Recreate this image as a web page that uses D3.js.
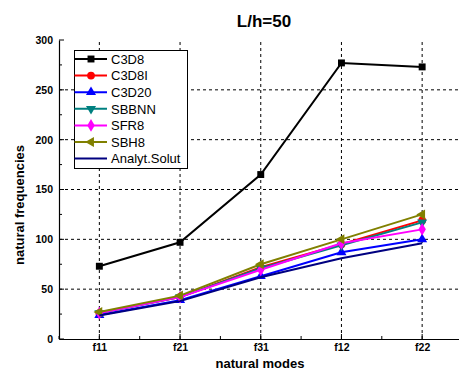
<!DOCTYPE html>
<html>
<head>
<meta charset="utf-8">
<script src="https://cdn.jsdelivr.net/npm/d3@7"></script>
<style>
  html, body { margin: 0; padding: 0; background: #fff; }
  svg { display: block; font-family: "Liberation Sans", Arial, sans-serif; }
</style>
</head>
<body>
<svg id="chart" width="459" height="372"></svg>
<script>
// Natural modes on the x axis
const modes = ["f11", "f21", "f31", "f12", "f22"];

// Natural frequencies per element type
const c3d8   = [73, 97, 165, 277, 273];
const c3d8i  = [26, 42, 72, 95, 119];
const c3d20  = [24, 39, 63, 87, 100];
const sbbnn  = [26, 42, 71, 94, 117];
const sfr8   = [26, 42, 69.5, 96, 110];
const sbh8   = [27, 43.5, 75, 100, 125];
const analyt = [23.5, 38, 62, 81, 96];

const yTicks = [0, 50, 100, 150, 200, 250, 300];

const seriesList = [
  { name: "C3D8",         values: c3d8,   color: "#000000", symbol: d3.symbolSquare,   size: 48, rot: 0 },
  { name: "C3D8I",        values: c3d8i,  color: "#ff0000", symbol: d3.symbolCircle,   size: 48, rot: 0 },
  { name: "C3D20",        values: c3d20,  color: "#0000ff", symbol: d3.symbolTriangle, size: 44, rot: 0 },
  { name: "SBBNN",        values: sbbnn,  color: "#008080", symbol: d3.symbolTriangle, size: 44, rot: 180 },
  { name: "SFR8",         values: sfr8,   color: "#ff00ff", symbol: d3.symbolDiamond,  size: 48, rot: 0 },
  { name: "SBH8",         values: sbh8,   color: "#808000", symbol: d3.symbolTriangle, size: 44, rot: -90 },
  { name: "Analyt.Solut", values: analyt, color: "#000080", symbol: null,              size: 0,  rot: 0 }
];

const svg = d3.select("#chart");

const plotLeft = 59, plotBottom = 339, plotTop = 40, plotRight = 462.5;

const x = d3.scaleLinear().domain([-0.5, 4.5]).range([plotLeft, plotRight]);
const y = d3.scaleLinear().domain([0, 300]).range([plotBottom, plotTop]);

// Title
svg.append("text")
  .attr("x", 264).attr("y", 27)
  .attr("text-anchor", "middle")
  .attr("font-size", 17).attr("font-weight", "bold")
  .text("L/h=50");

// Dotted grid at major ticks
const grid = svg.append("g").attr("stroke", "#000").attr("stroke-width", 1)
  .attr("stroke-dasharray", "3,3").attr("fill", "none");
modes.forEach((m, i) => {
  grid.append("line").attr("x1", x(i)).attr("x2", x(i)).attr("y1", plotBottom).attr("y2", plotTop);
});
yTicks.filter(v => v > 0 && v < 300).forEach(v => {
  grid.append("line").attr("x1", plotLeft).attr("x2", plotRight).attr("y1", y(v)).attr("y2", y(v));
});

// Axes with inward ticks
const yAxis = d3.axisLeft(y).tickValues(yTicks).tickSize(0).tickPadding(6);
const yG = svg.append("g").attr("transform", `translate(${plotLeft},0)`).call(yAxis);
yG.select(".domain").attr("stroke-width", 1.2);
yG.selectAll("text").attr("font-size", 10.5).attr("font-weight", "bold")
  .attr("font-family", "Liberation Sans, Arial, sans-serif");

const yMinor = d3.range(0, 301, 25);
svg.append("g").selectAll("line").data(yMinor).join("line")
  .attr("x1", plotLeft).attr("x2", d => plotLeft + (d % 50 === 0 ? 5 : 3))
  .attr("y1", d => y(d)).attr("y2", d => y(d))
  .attr("stroke", "#000");

const xAxis = d3.axisBottom(x).tickValues(d3.range(modes.length))
  .tickFormat(i => modes[i]).tickSize(0).tickPadding(5);
const xG = svg.append("g").attr("transform", `translate(0,${plotBottom})`).call(xAxis);
xG.select(".domain").attr("stroke-width", 1.2);
xG.selectAll("text").attr("font-size", 10.5).attr("font-weight", "bold")
  .attr("font-family", "Liberation Sans, Arial, sans-serif");

const xMinor = d3.range(-0.5, 4.51, 0.5);
svg.append("g").selectAll("line").data(xMinor).join("line")
  .attr("x1", d => x(d)).attr("x2", d => x(d))
  .attr("y1", plotBottom).attr("y2", d => plotBottom - (Number.isInteger(d) ? 5 : 3))
  .attr("stroke", "#000");

// Axis titles
svg.append("text")
  .attr("x", 260).attr("y", 368)
  .attr("text-anchor", "middle")
  .attr("font-size", 13).attr("font-weight", "bold")
  .text("natural modes");
svg.append("text")
  .attr("transform", "translate(24,205) rotate(-90)")
  .attr("text-anchor", "middle")
  .attr("font-size", 13).attr("font-weight", "bold")
  .text("natural frequencies");

// Series lines and markers
const line = d3.line().x((d, i) => x(i)).y(d => y(d));
const plot = svg.append("g");
seriesList.forEach(s => {
  plot.append("path").datum(s.values)
    .attr("d", line).attr("fill", "none")
    .attr("stroke", s.color).attr("stroke-width", 2);
  if (s.symbol) {
    plot.append("g").selectAll("path").data(s.values).join("path")
      .attr("d", d3.symbol().type(s.symbol).size(s.size))
      .attr("transform", (d, i) => `translate(${x(i)},${y(d)}) rotate(${s.rot})`)
      .attr("fill", s.color);
  }
});

// Legend
const lg = svg.append("g");
const lgX = 74.5, lgY = 50.5, rowH = 16.6;
lg.append("rect")
  .attr("x", lgX).attr("y", lgY).attr("width", 113).attr("height", 118)
  .attr("fill", "#fff").attr("stroke", "#000").attr("stroke-width", 1);
seriesList.forEach((s, k) => {
  const cy = 59 + k * rowH;
  lg.append("line").attr("x1", lgX).attr("x2", 107).attr("y1", cy).attr("y2", cy)
    .attr("stroke", s.color).attr("stroke-width", 2);
  if (s.symbol) {
    lg.append("path")
      .attr("d", d3.symbol().type(s.symbol).size(s.size))
      .attr("transform", `translate(91,${cy}) rotate(${s.rot})`)
      .attr("fill", s.color);
  }
  lg.append("text").attr("x", 111).attr("y", cy + 4.7)
    .attr("font-size", 13).text(s.name);
});
</script>
</body>
</html>
